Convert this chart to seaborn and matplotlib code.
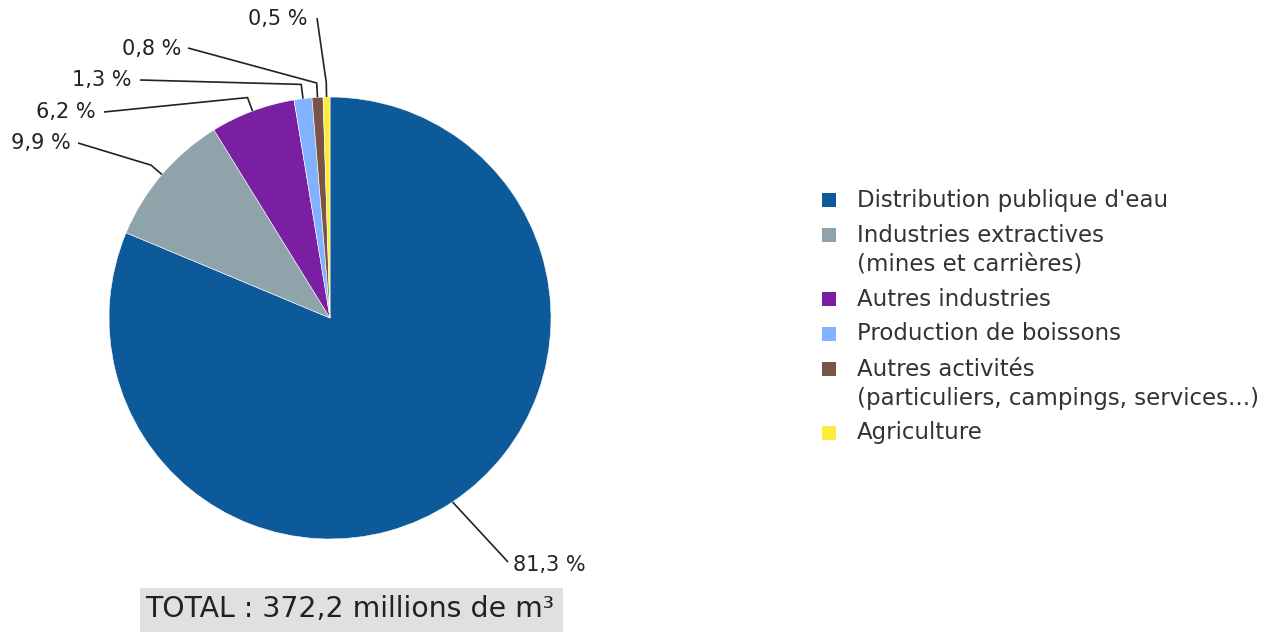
import matplotlib
matplotlib.use("Agg")
import matplotlib.pyplot as plt
import numpy as np
import seaborn as sns
from matplotlib.patches import Rectangle

CATEGORIES = [
    "Distribution publique d'eau",
    "Industries extractives\n(mines et carrières)",
    "Autres industries",
    "Production de boissons",
    "Autres activités\n(particuliers, campings, services...)",
    "Agriculture",
]
SHARES = [81.3, 9.9, 6.2, 1.3, 0.8, 0.5]
COLORS = ["#0d5a9a", "#8fa3ab", "#7b1fa2", "#82b1ff", "#795548", "#ffeb3b"]
TOTAL_TEXT = "TOTAL : 372,2 millions de m³"

W, H = 1279, 633
CENTER = (330, H - 318)
RADIUS = 221

# label text anchors (pixel coords, y from top) and alignment
LABEL_POS = [(513, 565, "left"), (71, 143, "right"), (96, 112, "right"),
             (131, 80, "right"), (181, 49, "right"), (307, 19, "right")]
LINE_END = [(508, 562), (78, 143), (104, 112), (140, 80), (188, 48), (317, 18)]
ELBOW = [1.0, 1.065, 1.065, 1.065, 1.065, 1.065]


def fmt(v: float) -> str:
    return f"{v:.1f}".replace(".", ",") + " %"


def main() -> None:
    sns.set_theme(style="white")
    plt.rcParams["font.family"] = ["DejaVu Sans"]
    palette = sns.color_palette(COLORS)

    fig = plt.figure(figsize=(W / 100, H / 100), dpi=100)
    ax = fig.add_axes([0, 0, 1, 1])
    ax.axis("off")

    wedges, _ = ax.pie(
        SHARES, colors=palette, startangle=90, counterclock=False,
        center=CENTER, radius=RADIUS,
        wedgeprops=dict(linewidth=0.4, edgecolor="white"),
    )
    ax.set_xlim(0, W)
    ax.set_ylim(0, H)
    ax.set_aspect("equal")

    for w, v, (tx, ty, ha), (lx, ly), k in zip(wedges, SHARES, LABEL_POS, LINE_END, ELBOW):
        ang = np.deg2rad((w.theta1 + w.theta2) / 2)
        cx, cy = CENTER
        xs = [cx + RADIUS * np.cos(ang), cx + RADIUS * k * np.cos(ang), lx]
        ys = [cy + RADIUS * np.sin(ang), cy + RADIUS * k * np.sin(ang), H - ly]
        ax.plot(xs, ys, color="#222222", linewidth=1.2, solid_capstyle="butt")
        ax.text(tx, H - ty, fmt(v), ha=ha, va="center", fontsize=15, color="#222222")

    ax.add_patch(Rectangle((140, H - 632), 423, 44, facecolor="#e0e0e0", edgecolor="none"))
    ax.text(145, H - 609, TOTAL_TEXT, ha="left", va="center", fontsize=20.4, color="#222222")

    # legend drawn by hand so multi-line entries keep the swatch on the first line
    y = 200
    for color, label in zip(palette, CATEGORIES):
        ax.add_patch(Rectangle((822, H - y - 7), 14, 14, facecolor=color, edgecolor="none"))
        for j, line in enumerate(label.split("\n")):
            ax.text(857, H - (y + 29 * j), line, ha="left", va="center",
                    fontsize=16.5, color="#333333")
        y += 35 + 29 * label.count("\n")

    fig.savefig("out.png", dpi=100)
    plt.close(fig)


if __name__ == "__main__":
    main()
